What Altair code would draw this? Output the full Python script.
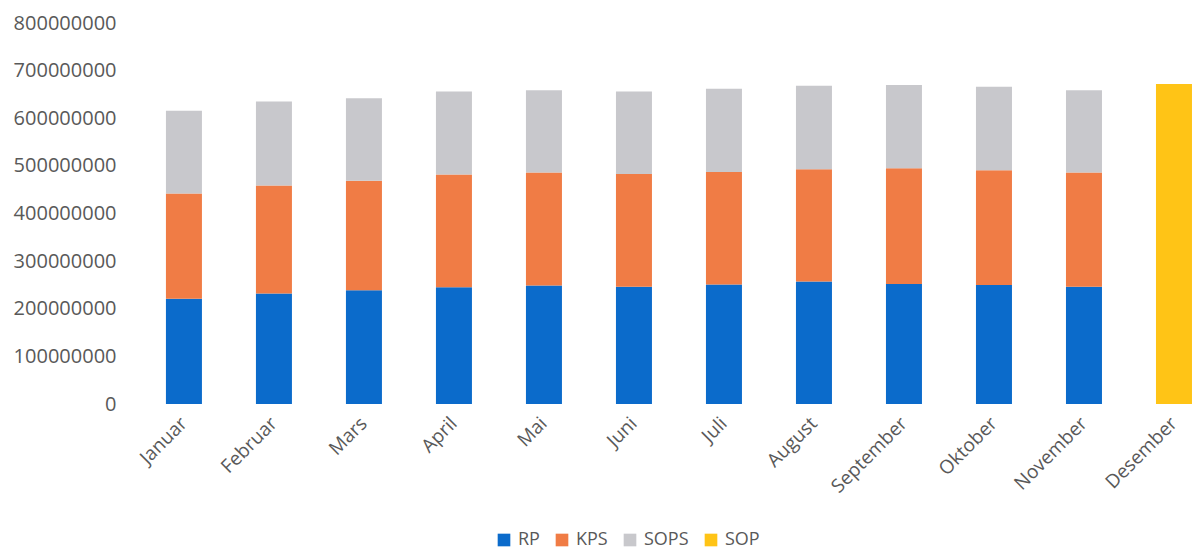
import altair as alt
import pandas as pd

months = ["Januar", "Februar", "Mars", "April", "Mai", "Juni", "Juli",
          "August", "September", "Oktober", "November", "Desember"]
series = ["RP", "KPS", "SOPS", "SOP"]
rp = [221e6, 232e6, 239e6, 245e6, 249e6, 246e6, 251e6, 257e6, 252e6, 250e6, 246e6, None]
kps = [221e6, 227e6, 230e6, 237e6, 237e6, 237e6, 236e6, 236e6, 243e6, 241e6, 240e6, None]
sops = [174e6, 176e6, 173e6, 174e6, 173e6, 173e6, 175e6, 175e6, 175e6, 175e6, 173e6, None]
sop = [None, None, None, None, None, None, None, None, None, None, None, 672e6]
colors = ["#0B6BCB", "#F07C45", "#C8C8CC", "#FFC416"]

rows = []
for si, (name, vals) in enumerate(zip(series, [rp, kps, sops, sop])):
    for m, v in zip(months, vals):
        if v is not None:
            rows.append({"month": m, "series": name, "value": v, "idx": si})
df = pd.DataFrame(rows)

font = "Open Sans"
label_color = "#595959"

chart = alt.Chart(df).mark_bar().encode(
    x=alt.X("month:N", sort=months, title=None,
            scale=alt.Scale(paddingInner=0.6, paddingOuter=0.172, align=0.87),
            axis=alt.Axis(labelAngle=-45, labelAlign="right", labelBaseline="middle",
                          labelPadding=16, ticks=False, domain=False,
                          labelFont=font, labelFontSize=19, labelColor=label_color)),
    y=alt.Y("value:Q", stack="zero", title=None,
            scale=alt.Scale(domain=[0, 800000000], nice=False),
            axis=alt.Axis(values=[i * 100000000 for i in range(9)], format="d",
                          grid=False, ticks=False, domain=False, labelPadding=23,
                          labelFont=font, labelFontSize=20, labelColor=label_color)),
    color=alt.Color("series:N", sort=series, title=None,
                    scale=alt.Scale(domain=series, range=colors),
                    legend=alt.Legend(orient="none", direction="horizontal",
                                      legendX=356, legendY=508,
                                      symbolType="square", symbolSize=160,
                                      symbolStrokeWidth=0, labelOffset=5,
                                      columnPadding=13,
                                      labelFont=font, labelFontSize=18,
                                      labelColor=label_color)),
    order=alt.Order("idx:Q", sort="ascending"),
).properties(
    width=1057, height=381,
    background="white",
    padding={"left": 5, "top": 5, "right": 0, "bottom": 0},
).configure_view(strokeWidth=0, stroke="transparent")

chart.save("out.html", embed_options={"renderer": "svg", "actions": False})
